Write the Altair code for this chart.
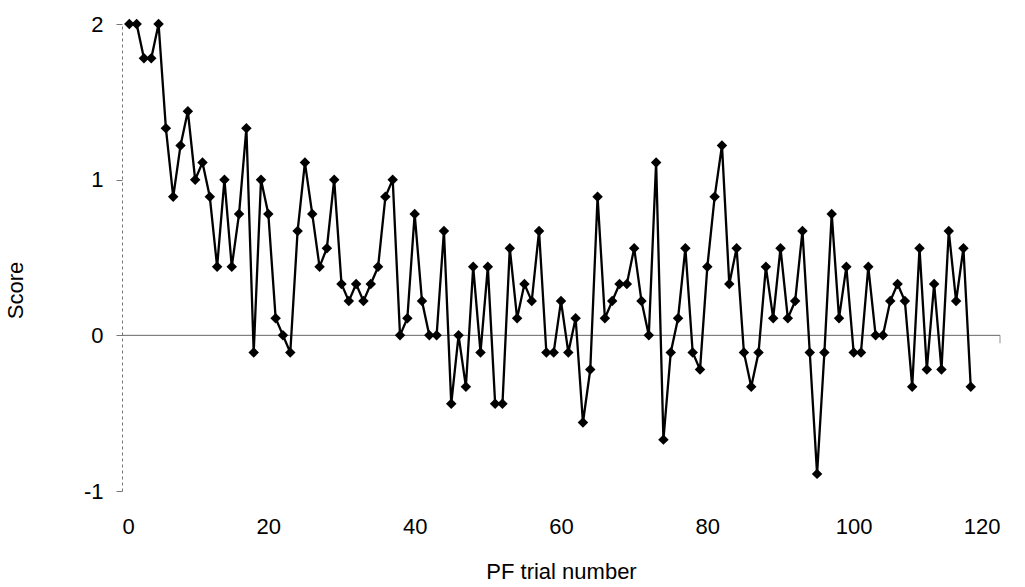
import altair as alt
import pandas as pd

trials = list(range(1, 117))
scores = [
    2, 2, 1.78, 1.78, 2, 1.33, 0.89, 1.22, 1.44, 1,
    1.11, 0.89, 0.44, 1, 0.44, 0.78, 1.33, -0.11, 1, 0.78,
    0.11, 0, -0.11, 0.67, 1.11, 0.78, 0.44, 0.56, 1, 0.33,
    0.22, 0.33, 0.22, 0.33, 0.44, 0.89, 1, 0, 0.11, 0.78,
    0.22, 0, 0, 0.67, -0.44, 0, -0.33, 0.44, -0.11, 0.44,
    -0.44, -0.44, 0.56, 0.11, 0.33, 0.22, 0.67, -0.11, -0.11, 0.22,
    -0.11, 0.11, -0.56, -0.22, 0.89, 0.11, 0.22, 0.33, 0.33, 0.56,
    0.22, 0, 1.11, -0.67, -0.11, 0.11, 0.56, -0.11, -0.22, 0.44,
    0.89, 1.22, 0.33, 0.56, -0.11, -0.33, -0.11, 0.44, 0.11, 0.56,
    0.11, 0.22, 0.67, -0.11, -0.89, -0.11, 0.78, 0.11, 0.44, -0.11,
    -0.11, 0.44, 0, 0, 0.22, 0.33, 0.22, -0.33, 0.56, -0.22,
    0.33, -0.22, 0.67, 0.22, 0.56, -0.33,
]
x_ticks = [0, 20, 40, 60, 80, 100, 120]
y_ticks = [-1, 0, 1, 2]

df = pd.DataFrame({"trial": trials, "score": scores})
zero_df = pd.DataFrame({"trial": [0], "x1": [120], "score": [0]})
end_tick = pd.DataFrame({"trial": [120], "score": [0]})

FONT = "Liberation Sans"

x_enc = alt.X(
    "trial:Q",
    scale=alt.Scale(domain=[0, 120], nice=False, zero=False),
    axis=alt.Axis(
        values=x_ticks, title="PF trial number", domain=False, ticks=False,
        grid=False, labelPadding=25, labelExpr="datum.value + ''",
        titlePadding=24,
    ),
)
y_enc = alt.Y(
    "score:Q",
    scale=alt.Scale(domain=[-1, 2], nice=False, zero=False),
    axis=alt.Axis(
        values=y_ticks, title="Score", grid=False, domain=True,
        domainColor="#777777", domainDash=[3, 3], domainWidth=1,
        ticks=True, tickSize=6, tickColor="#777777", labelPadding=13,
        labelExpr="datum.value + ''", titleX=-95, titleY=266,
    ),
)

zero_line = alt.Chart(zero_df).mark_rule(color="#666666", strokeWidth=1).encode(
    x=x_enc, x2="x1:Q", y=y_enc,
)
tick = alt.Chart(end_tick).mark_tick(
    color="#666666", orient="vertical", size=8, thickness=1, yOffset=4
).encode(x="trial:Q", y="score:Q")

line = alt.Chart(df).mark_line(color="black", strokeWidth=2.3).encode(
    x="trial:Q", y="score:Q"
)
pts = alt.Chart(df).mark_point(
    shape="diamond", filled=True, color="black", size=110, opacity=1
).encode(x="trial:Q", y="score:Q")

chart = (
    alt.layer(zero_line, tick, line, pts)
    .properties(
        width=878, height=467,
        autosize=alt.AutoSizeParams(type="none"),
        padding={"left": 122, "top": 24, "right": 25, "bottom": 96},
        background="white",
    )
    .configure_view(stroke=None)
    .configure_axis(
        labelFont=FONT, labelFontSize=22, labelColor="black",
        titleFont=FONT, titleFontSize=22, titleFontWeight="normal",
        titleColor="black",
    )
)

chart.save("out.html", embed_options={"renderer": "svg", "actions": False})
